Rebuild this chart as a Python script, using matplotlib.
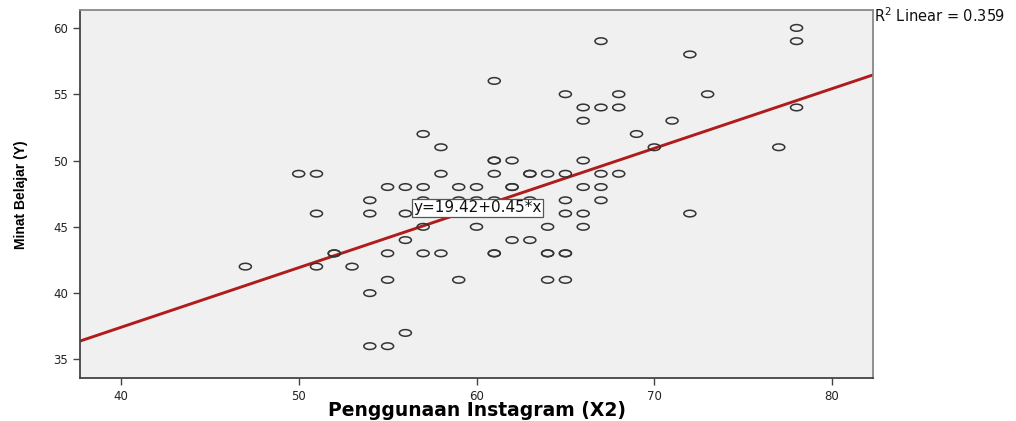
import matplotlib
matplotlib.use("Agg")
import matplotlib.pyplot as plt
import numpy as np
from matplotlib.path import Path
from matplotlib.transforms import Affine2D

# ---- data ----
rows_y = [60, 59, 58, 56, 55, 54, 53, 52, 51, 50, 49, 48, 47, 46, 45, 44, 43, 42, 41, 40, 37, 36]
rows_x = [
    [78],
    [67, 78],
    [72],
    [61],
    [65, 68, 73],
    [66, 67, 68, 78],
    [66, 71],
    [57, 69],
    [58, 70, 77],
    [61, 61, 62, 66],
    [50, 51, 58, 61, 63, 63, 64, 65, 67, 68],
    [55, 56, 57, 59, 60, 62, 62, 66, 67],
    [54, 57, 59, 60, 61, 63, 65, 67],
    [51, 54, 56, 65, 66, 72],
    [57, 60, 64, 66],
    [56, 62, 63],
    [52, 52, 55, 57, 58, 61, 61, 64, 64, 65, 65],
    [47, 51, 53],
    [55, 59, 64, 65],
    [54],
    [56],
    [54, 55],
]
x_vals = [xv for xs in rows_x for xv in xs]
y_vals = [yv for yv, xs in zip(rows_y, rows_x) for _ in xs]

intercept = 19.42
slope = 0.45
r2 = 0.359
x_ticks = [40, 50, 60, 70, 80]
y_ticks = [35, 40, 45, 50, 55, 60]
x_label = "Penggunaan Instagram (X2)"
y_label = "Minat Belajar (Y)"

# ---- figure ----
fig = plt.figure(figsize=(10.16, 4.21), dpi=100)
ax = fig.add_axes([80 / 1016, 1 - 378 / 421, (873 - 80) / 1016, (378 - 10) / 421])
ax.set_facecolor("#f0f0f0")

xlim = (37.7, 82.3)
ylim = (33.6, 61.35)
ax.set_xlim(*xlim)
ax.set_ylim(*ylim)

# elliptical marker (reference is horizontally stretched)
ell = Path.unit_circle().transformed(Affine2D().scale(1.0, 0.55))
ax.scatter(x_vals, y_vals, marker=ell, s=75, facecolors="none",
           edgecolors="#333333", linewidths=1.1, zorder=3)

# regression line
lx = np.array(xlim)
ax.plot(lx, intercept + slope * lx, color="#b01c1c", lw=2.1, zorder=2)

ax.text(60.05, 46.45, f"y={intercept:.2f}+{slope:.2f}*x", ha="center", va="center",
        fontsize=11, family="DejaVu Sans", color="#111111", zorder=5,
        bbox=dict(boxstyle="square,pad=0.1", fc="white", ec="#555555", lw=0.9))

fig.text(874 / 1016, 1 - 16 / 421, f"R$^2$ Linear = {r2:.3f}", ha="left", va="center",
         fontsize=10.5, family="DejaVu Sans", color="#111111")

ax.set_xticks(x_ticks)
ax.set_yticks(y_ticks)
ax.tick_params(direction="out", length=5, width=1, color="#444444",
               labelsize=8.5, labelcolor="#222222")
for lab in ax.get_xticklabels() + ax.get_yticklabels():
    lab.set_family("DejaVu Sans")

for side in ["left", "bottom"]:
    ax.spines[side].set_color("#444444")
    ax.spines[side].set_linewidth(1.3)
for side in ["right", "top"]:
    ax.spines[side].set_color("#888888")
    ax.spines[side].set_linewidth(1.3)

fig.text(477 / 1016, 1 - 411 / 421, x_label, ha="center", va="center",
         fontsize=13.5, fontweight="bold", family="DejaVu Sans")

fig.text(21 / 1016, 1 - 195 / 421, y_label, rotation=90, ha="center", va="center",
         fontsize=10, fontweight="bold", family="Liberation Sans")

fig.savefig("out.png", dpi=100, facecolor="white")
